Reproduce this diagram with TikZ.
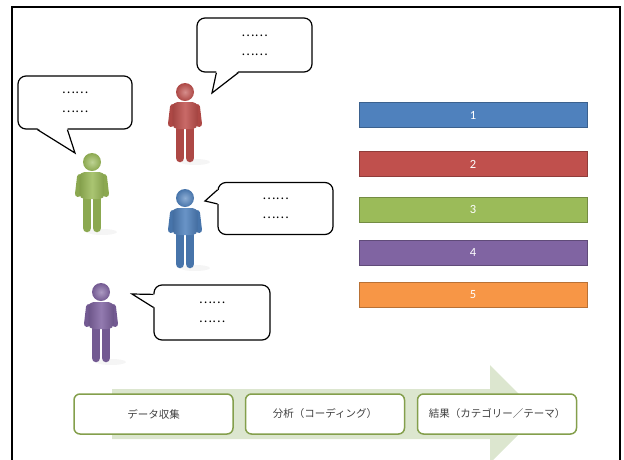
\documentclass[tikz,border=0pt]{standalone}
\usepackage{fontspec}
\setmainfont{Carlito}
\newfontfamily\jpfont{Noto Sans CJK JP}
\usepackage{tikz}
\usetikzlibrary{calc,positioning}
\definecolor{offBlue}{HTML}{4F81BD}
\definecolor{offRed}{HTML}{C0504D}
\definecolor{offGreen}{HTML}{9BBB59}
\definecolor{offPurple}{HTML}{8064A2}
\definecolor{offOrange}{HTML}{F79646}
\definecolor{flowGreen}{HTML}{DCE6CF}
\definecolor{stepText}{HTML}{404040}
\tikzset{
  frame line/.style={line width=2.5pt, draw=black},
  bubble/.style={draw=black, line width=1.2pt, fill=white, rounded corners=8pt,
    align=center, inner sep=0pt, font=\jpfont\fontsize{12.5}{19}\selectfont},
  tail/.style={draw=black, line width=1.2pt, line join=miter},
  bar/.style={draw=#1!75!black, fill=#1, line width=1pt, minimum width=228pt,
    minimum height=25pt, inner sep=0pt, text=white,
    font=\fontsize{12.5}{13}\selectfont},
  stepbox/.style={draw=offGreen!85!black, fill=white, line width=1.5pt,
    rounded corners=6pt, minimum width=159pt, minimum height=40pt,
    inner sep=0pt, text=stepText, font=\jpfont\fontsize{10.5}{12}\selectfont},
  pics/person/.style={code={
    \fill[black!4] (10,70) ellipse [x radius=15, y radius=3];
    \draw[line width=8.5pt, line cap=round, draw=#1!90!black] (-5,37) -- (-5,66) (5,37) -- (5,66);
    \draw[line width=6pt, line cap=round, draw=#1!90!black] (-12,15) -- (-14,32) (12,15) -- (14,32);
    \shade[left color=#1!85!black, right color=#1!85!black, middle color=#1!85!white,
      rounded corners=5pt] (-12.5,10) rectangle (12.5,37);
    \shade[inner color=#1!65!white, outer color=#1!90!black] (0,0) circle [radius=9];
  }}
}

\begin{document}
\begin{tikzpicture}[x=1pt, y=-1pt]
  \useasboundingbox (0,0) rectangle (624,459);
  \draw[frame line] (12,470) -- (12,7) -- (620,7) -- (620,470);

  % people
  \pic at (185,92) {person=offRed};
  \pic at (92,162) {person=offGreen};
  \pic at (185,198) {person=offBlue};
  \pic at (101,292) {person=offPurple};

  % speech bubbles
  \node[bubble, minimum width=115pt, minimum height=54pt] (rb) at (254.5,45) {……\\……};
  \coordinate (rbtip) at (212,93);
  \fill[white] ($(rb.south west)+(20,-1.5)$) -- (rbtip) -- ($(rb.south west)+(42,-1.5)$) -- cycle;
  \draw[tail] ($(rb.south west)+(20,0)$) -- (rbtip) -- ($(rb.south west)+(42,0)$);

  \node[bubble, minimum width=114pt, minimum height=53pt] (gb) at (75,102.5) {……\\……};
  \coordinate (gbtip) at (75,153);
  \fill[white] ($(gb.south west)+(20,-1.5)$) -- (gbtip) -- ($(gb.south west)+(50,-1.5)$) -- cycle;
  \draw[tail] ($(gb.south west)+(20,0)$) -- (gbtip) -- ($(gb.south west)+(50,0)$);

  \node[bubble, minimum width=115pt, minimum height=52pt] (bb) at (275.5,208.5) {……\\……};
  \coordinate (bbtip) at (205,201);
  \fill[white] ($(bb.north west)+(1.5,8)$) -- (bbtip) -- ($(bb.north west)+(1.5,22)$) -- cycle;
  \draw[tail] ($(bb.north west)+(0,8)$) -- (bbtip) -- ($(bb.north west)+(0,22)$);

  \node[bubble, minimum width=116pt, minimum height=55pt] (pb) at (212,312.5) {……\\……};
  \coordinate (pbtip) at (132,294);
  \fill[white] ($(pb.north west)+(1.5,10)$) -- (pbtip) -- ($(pb.north west)+(1.5,23)$) -- cycle;
  \draw[tail] ($(pb.north west)+(0,10)$) -- (pbtip) -- ($(pb.north west)+(0,23)$);

  % categories
  \node[bar=offBlue] (c1) at (473,115) {1};
  \node[bar=offRed] (c2) at (473,164) {2};
  \node[bar=offGreen] (c3) at (473,209.5) {3};
  \node[bar=offPurple] (c4) at (473,252.5) {4};
  \node[bar=offOrange] (c5) at (473,295) {5};

  % process
  \fill[flowGreen] (112,389) -- (490,389) -- (490,365) -- (539,414)
    -- (490,463) -- (490,439) -- (112,439) -- cycle;
  \node[stepbox] (collect) at (153.5,414) {データ収集};
  \node[stepbox] (coding) at (325,414) {分析（コーディング）};
  \node[stepbox] (result) at (497,414) {結果（カテゴリー／テーマ）};
\end{tikzpicture}
\end{document}
